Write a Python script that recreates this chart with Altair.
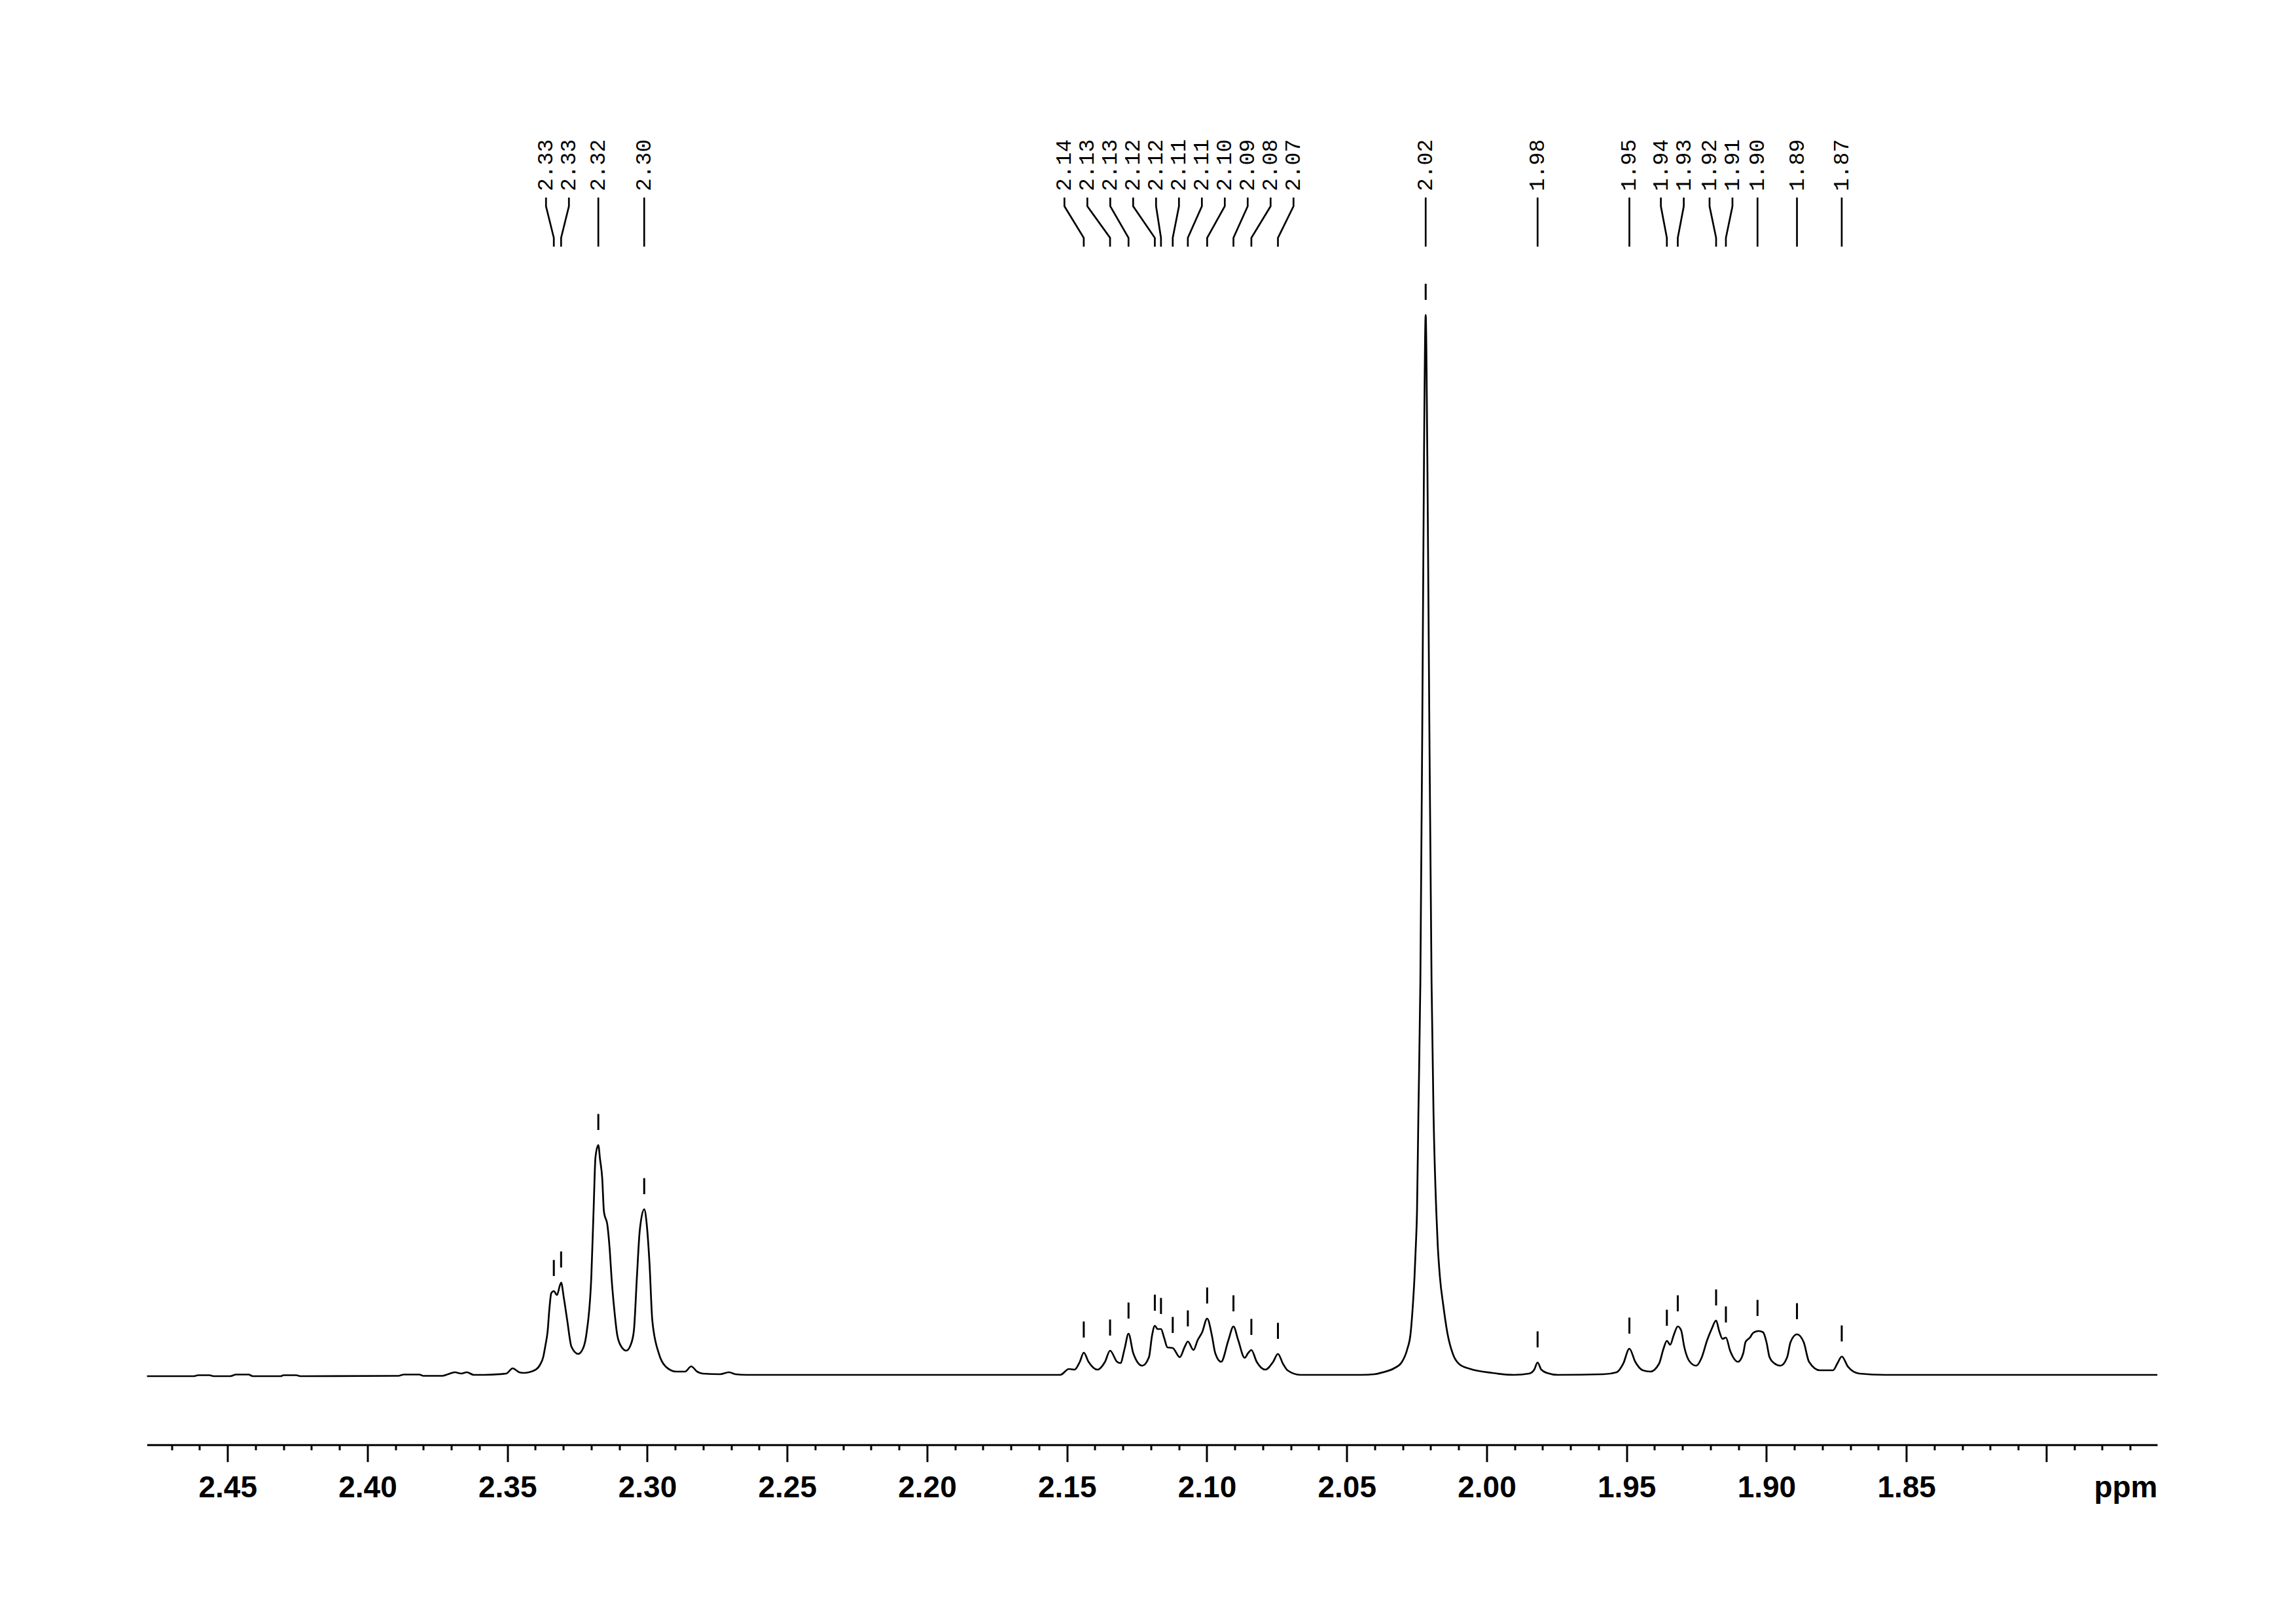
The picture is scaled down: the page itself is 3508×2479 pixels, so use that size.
import altair as alt
import pandas as pd

# ---------------- data ----------------
trace_ppm = [
    2.4788, 2.4620, 2.4605, 2.4565, 2.4550, 2.4490, 2.4470, 2.4425, 2.4410, 2.4310,
    2.4300, 2.4255, 2.4240, 2.3890, 2.3870, 2.3815, 2.3800, 2.3733, 2.3712, 2.3688,
    2.3665, 2.3645, 2.3620, 2.3582, 2.3504, 2.3481, 2.3458, 2.3442, 2.3403, 2.3384,
    2.3372, 2.3364, 2.3356, 2.3350, 2.3343, 2.3334, 2.3323, 2.3308, 2.3298, 2.3286,
    2.3271, 2.3247, 2.3228, 2.3216, 2.3200, 2.3192, 2.3185, 2.3175, 2.3169, 2.3161,
    2.3155, 2.3142, 2.3134, 2.3128, 2.3118, 2.3107, 2.3091, 2.3075, 2.3060, 2.3048,
    2.3037, 2.3027, 2.3011, 2.3002, 2.2992, 2.2982, 2.2959, 2.2935, 2.2896, 2.2865,
    2.2843, 2.2822, 2.2803, 2.2740, 2.2708, 2.2685, 2.2646, 2.1570, 2.1524, 2.1493,
    2.1473, 2.1454, 2.1440, 2.1423, 2.1391, 2.1364, 2.1346, 2.1321, 2.1309, 2.1294,
    2.1280, 2.1263, 2.1231, 2.1207, 2.1196, 2.1186, 2.1176, 2.1164, 2.1153, 2.1141,
    2.1122, 2.1097, 2.1079, 2.1068, 2.1048, 2.1033, 2.1017, 2.0999, 2.0982, 2.0970,
    2.0949, 2.0923, 2.0905, 2.0888, 2.0865, 2.0853, 2.0841, 2.0822, 2.0791, 2.0763,
    2.0746, 2.0728, 2.0712, 2.0666, 2.0448, 2.0401, 2.0370, 2.0331, 2.0304, 2.0284,
    2.0272, 2.0265, 2.0258, 2.0253, 2.0249, 2.0244, 2.0237, 2.0230, 2.0224, 2.0218,
    2.0212, 2.0205, 2.0197, 2.0190, 2.0180, 2.0175, 2.0167, 2.0155, 2.0140, 2.0120,
    2.0097, 2.0058, 1.9980, 1.9902, 1.9848, 1.9830, 1.9818, 1.9805, 1.9785, 1.9746,
    1.9582, 1.9535, 1.9512, 1.9490, 1.9469, 1.9442, 1.9415, 1.9384, 1.9368, 1.9356,
    1.9344, 1.9332, 1.9317, 1.9305, 1.9294, 1.9274, 1.9251, 1.9231, 1.9212, 1.9196,
    1.9180, 1.9169, 1.9157, 1.9145, 1.9130, 1.9102, 1.9083, 1.9075, 1.9059, 1.9048,
    1.9028, 1.9012, 1.9000, 1.8989, 1.8973, 1.8950, 1.8926, 1.8914, 1.8891, 1.8867,
    1.8848, 1.8809, 1.8762, 1.8746, 1.8731, 1.8708, 1.8669, 1.8576, 1.7603,
]
trace_int = [
    -2, -2, -0.5, -0.5, -2, -2, 0.5, 0.5, -2, -2,
    -0.5, -0.5, -2, -1.5, 0.5, 0.5, -1.5, -1.5, 1, 4,
    2, 4, 0, 0, 2, 10, 4, 3, 7, 15,
    27, 45, 67, 100, 125, 128, 122, 141, 117, 83,
    43, 32, 42, 67, 150, 250, 333, 351, 330, 300,
    250, 227, 190, 150, 100, 60, 42, 37, 45, 67,
    150, 220, 253, 230, 170, 83, 33, 13, 5, 5,
    13, 5, 2, 1, 4, 1, 0, 0, 0, 9,
    8, 20, 34, 20, 8, 20, 37, 20, 18, 40,
    63, 33, 14, 27, 60, 75, 70, 70, 57, 42,
    41, 27, 43, 51, 38, 53, 65, 86, 60, 33,
    20, 53, 74, 53, 26, 33, 38, 20, 8, 20,
    32, 17, 7, 0, 0, 1, 4, 10, 19, 39,
    63, 99, 149, 199, 249, 400, 600, 1000, 1400, 1619,
    1400, 1000, 600, 400, 249, 199, 149, 106, 63, 31,
    16, 9, 3, 0, 2, 8, 19, 8, 3, 0,
    1, 4, 17, 40, 20, 7, 5, 17, 40, 52,
    46, 60, 74, 68, 43, 20, 14, 27, 53, 70,
    83, 67, 55, 57, 37, 20, 33, 50, 57, 64,
    67, 65, 50, 27, 18, 14, 27, 50, 62, 50,
    20, 7, 7, 18, 28, 12, 2, 0, 0,
]

peak_ppm = [2.3334, 2.3308, 2.3175, 2.3011, 2.1440, 2.1346, 2.1280, 2.1186, 2.1164,
            2.1122, 2.1068, 2.0999, 2.0905, 2.0841, 2.0746, 2.0218, 1.9818, 1.9490,
            1.9356, 1.9317, 1.9180, 1.9145, 1.9032, 1.8891, 1.8731]
peak_int = [128, 141, 351, 253, 34, 37, 63, 75, 70, 41, 51, 86, 74, 38, 32, 1619, 19,
            40, 52, 74, 83, 57, 67, 62, 28]
peak_labels = ["2.33", "2.33", "2.32", "2.30", "2.14", "2.13", "2.13", "2.12", "2.12",
               "2.11", "2.11", "2.10", "2.09", "2.08", "2.07", "2.02", "1.98", "1.95",
               "1.94", "1.93", "1.92", "1.91", "1.90", "1.89", "1.87"]

# ---------------- layout ----------------
X_LEFT, X_RIGHT = 2.47882, 1.76034
W, H = 3071.5, 2106.7
Y_MIN, Y_MAX = -106.7, 2000.0
PX_PER_PPM = W / (X_LEFT - X_RIGHT)
LABEL_GAP_PX = 35.0

# spread labels so that they keep a minimum spacing (clusters centred on their peaks)
order_idx = sorted(range(len(peak_ppm)), key=lambda j: -peak_ppm[j])
clusters = []  # each: [members(list of idx), start_px]
for j in order_idx:
    px = (X_LEFT - peak_ppm[j]) * PX_PER_PPM
    clusters.append([[j], px])
    while len(clusters) > 1:
        prev, cur = clusters[-2], clusters[-1]
        if prev[1] + len(prev[0]) * LABEL_GAP_PX > cur[1] + 1e-9:
            mem = prev[0] + cur[0]
            mean = sum((X_LEFT - peak_ppm[m]) * PX_PER_PPM for m in mem) / len(mem)
            clusters[-2:] = [[mem, mean - (len(mem) - 1) * LABEL_GAP_PX / 2]]
        else:
            break
label_ppm = [0.0] * len(peak_ppm)
for mem, start in clusters:
    for k, m in enumerate(mem):
        label_ppm[m] = X_LEFT - (start + k * LABEL_GAP_PX) / PX_PER_PPM

trace_df = pd.DataFrame({"ppm": trace_ppm, "intensity": trace_int,
                         "i": list(range(len(trace_ppm)))})
peak_df = pd.DataFrame({"ppm": peak_ppm, "intensity": peak_int})
label_df = pd.DataFrame({"ppm": label_ppm, "label": peak_labels,
                         "ly": [1808.0] * len(peak_ppm)})
conn_rows = []
for j in range(len(peak_ppm)):
    for seg, (xx, yy) in enumerate([(label_ppm[j], 1798.3), (label_ppm[j], 1785.0),
                                    (peak_ppm[j], 1736.7), (peak_ppm[j], 1723.3)]):
        conn_rows.append({"id": j, "seg": seg, "ppm": xx, "cy": yy})
conn_df = pd.DataFrame(conn_rows)

tick_values = [round(2.47 - 0.01 * i, 2) for i in range(71)]

xscale = alt.Scale(domain=[X_RIGHT, X_LEFT], reverse=True, nice=False, zero=False)
yscale = alt.Scale(domain=[Y_MIN, Y_MAX], nice=False, zero=False)

xaxis = alt.Axis(
    values=tick_values,
    title="ppm",
    titleFont="Liberation Sans", titleFontWeight="bold", titleFontSize=46,
    titleColor="black", titleX=W, titleY=80, titleAlign="right",
    titleBaseline="alphabetic", titleAngle=0,
    labelExpr="round(datum.value*100) % 5 == 0 && datum.value > 1.805 ? format(datum.value, '.2f') : ''",
    labelFont="Liberation Sans", labelFontWeight="bold", labelFontSize=46,
    labelColor="black", labelBaseline="alphabetic", labelPadding=54,
    labelOverlap=False, labelFlush=False, labelBound=False,
    tickSize={"condition": {"test": "round(datum.value*100) % 5 == 0", "value": 26}, "value": 8},
    tickWidth=3, tickColor="black",
    domainWidth=3, domainColor="black", grid=False,
)

spectrum = alt.Chart(trace_df).mark_line(
    color="black", strokeWidth=2.7, interpolate="monotone"
).encode(
    x=alt.X("ppm:Q", scale=xscale, axis=xaxis),
    y=alt.Y("intensity:Q", scale=yscale, axis=None),
    order="i:Q",
)

markers = alt.Chart(peak_df).mark_rule(
    color="black", strokeWidth=3, yOffset=-23, y2Offset=-47.5
).encode(
    x=alt.X("ppm:Q", scale=xscale, axis=xaxis),
    y=alt.Y("intensity:Q", scale=yscale, axis=None),
    y2="intensity:Q",
)

connectors = alt.Chart(conn_df).mark_line(
    color="black", strokeWidth=2.7
).encode(
    x=alt.X("ppm:Q", scale=xscale, axis=xaxis),
    y=alt.Y("cy:Q", scale=yscale, axis=None),
    detail="id:N",
    order="seg:Q",
)

labels = alt.Chart(label_df).mark_text(
    angle=270, align="left", baseline="middle", font="Liberation Mono",
    fontSize=33, color="black"
).encode(
    x=alt.X("ppm:Q", scale=xscale, axis=xaxis),
    y=alt.Y("ly:Q", scale=yscale, axis=None),
    text="label:N",
)

chart = alt.layer(spectrum, markers, connectors, labels).properties(
    width=W, height=H,
    padding={"left": 216.5, "top": 92, "right": 200, "bottom": 150},
    autosize=alt.AutoSizeParams(type="none"),
    background="white",
).configure_view(strokeWidth=0)

chart.save("out.html", embed_options={"renderer": "svg", "actions": False})
